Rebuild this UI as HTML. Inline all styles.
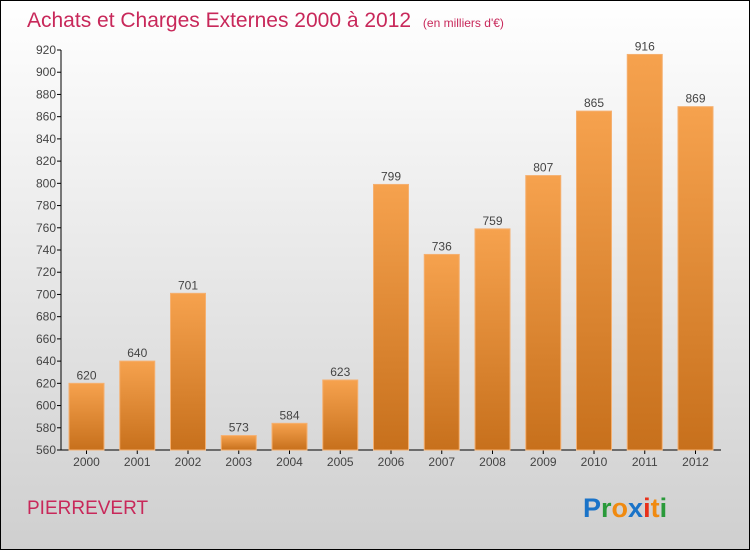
<!DOCTYPE html>
<html><head><meta charset="utf-8"><style>
body{margin:0}
svg{display:block;font-family:"Liberation Sans",sans-serif}
</style></head><body>
<svg id="c" width="750" height="550">
<defs>
<linearGradient id="bg" x1="0" y1="0" x2="0" y2="1"><stop offset="0" stop-color="#ffffff"/><stop offset="1" stop-color="#cfcfcf"/></linearGradient>
<linearGradient id="bar" x1="0" y1="0" x2="0" y2="1"><stop offset="0" stop-color="#f6a24e"/><stop offset="1" stop-color="#c7701c"/></linearGradient>
</defs>
<rect x="0.5" y="0.5" width="749" height="549" fill="url(#bg)" stroke="#000"/>
<text x="27" y="27" font-size="21" fill="#c8285a">Achats et Charges Externes 2000 à 2012 <tspan font-size="12" dx="6">(en milliers d'€)</tspan></text>
<text x="27" y="514" font-size="19" fill="#c8285a">PIERREVERT</text>
<g font-size="27" font-weight="bold">
<text x="583" y="517"><tspan fill="#1a73c8">P</tspan><tspan fill="#2a9a3a">r</tspan><tspan fill="#f08a10">o</tspan><tspan fill="#1a73c8">x</tspan><tspan fill="#e8301a">i</tspan><tspan fill="#f08a10">t</tspan><tspan fill="#2a9a3a">i</tspan></text>
</g>
<g id="axes"></g><g id="bars"></g>
</svg>
<script>
const categories=["2000","2001","2002","2003","2004","2005","2006","2007","2008","2009","2010","2011","2012"];
const values=[620,640,701,573,584,623,799,736,759,807,865,916,869];
const yTicks=[560,580,600,620,640,660,680,700,720,740,760,780,800,820,840,860,880,900,920];
const NS="http://www.w3.org/2000/svg";
const yMin=560,yMax=920,plotTop=50,plotBot=450,plotLeft=61,plotRight=721;
const yScale=v=>plotBot-(v-yMin)/(yMax-yMin)*(plotBot-plotTop);
const step=50.75;
const xScale=i=>69+i*step;
const bw=35;
function mk(t,a,p){const e=document.createElementNS(NS,t);for(const k in a)e.setAttribute(k,a[k]);p.appendChild(e);return e;}
const ax=document.getElementById('axes'),bg=document.getElementById('bars');
const yl=mk('line',{x1:plotLeft,y1:plotTop,x2:plotLeft,y2:plotBot,stroke:'#000'},ax);


const xl=mk('line',{x1:plotLeft,y1:plotBot,x2:plotRight,y2:plotBot,stroke:'#000'},ax);


yTicks.forEach(v=>{
 mk('line',{x1:plotLeft-4,y1:yScale(v),x2:plotLeft,y2:yScale(v),stroke:'#000'},ax);
 const t=mk('text',{x:plotLeft-5,y:yScale(v)+4,'text-anchor':'end','font-size':12,fill:'#444'},ax);
 t.textContent=v;
 
 
});
categories.forEach((c,i)=>{
 const v=values[i];
 const r=mk('rect',{x:xScale(i),y:yScale(v),width:bw,height:plotBot-yScale(v),fill:'url(#bar)',stroke:'#f5b070','stroke-width':1},bg);
 
 
 const l=mk('text',{x:xScale(i)+bw/2,y:yScale(v)-4,'text-anchor':'middle','font-size':12,fill:'#444'},bg);
 l.textContent=v;
 
 
 mk('line',{x1:xScale(i)+bw/2,y1:plotBot,x2:xScale(i)+bw/2,y2:plotBot+4,stroke:'#000'},ax);
 const t=mk('text',{x:xScale(i)+bw/2,y:plotBot+16,'text-anchor':'middle','font-size':12,fill:'#444'},ax);
 t.textContent=c;
 
 
});
</script>
</body></html>
